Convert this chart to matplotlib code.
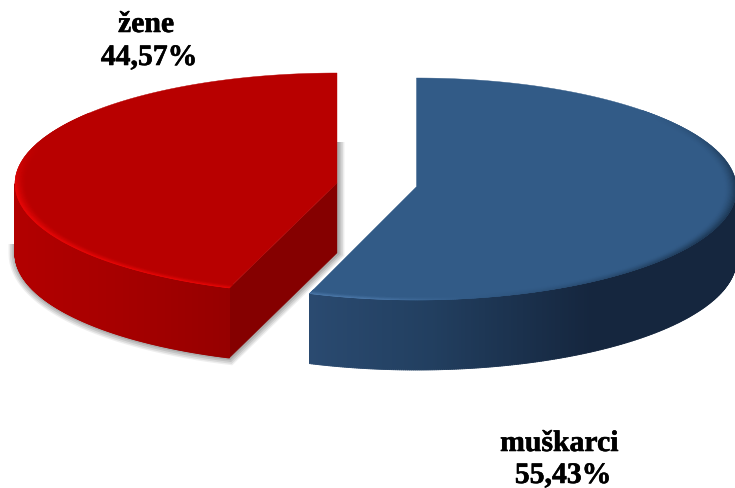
import numpy as np
import matplotlib
matplotlib.use("Agg")
import matplotlib.pyplot as plt
import matplotlib.patheffects as pe
from matplotlib.collections import PolyCollection
from matplotlib.colors import to_rgb
from matplotlib.patches import Polygon

# --- chart data ---
categories = ["muškarci", "žene"]
shares = [55.43, 44.57]

# --- styling ---
W, H = 735, 488
DEPTH = 70.0
blue_geo = dict(x=416.5, apex_y=186.7, cy=189.0, a=320.0, b=111.0)
red_geo = dict(x=337.0, apex_y=183.0, cy=183.7, a=322.0, b=110.7)
blue_top, red_top = "#325b87", "#b80000"
red_face = "#850000"
blue_side_x = [309, 430, 590, 735]
blue_side_c = ["#2a4a70", "#223f60", "#15263e", "#15263e"]
red_side_x = [15, 120, 230]
red_side_c = ["#b20000", "#a60000", "#960000"]


def lerp_colors(x, xs, cs):
    rgb = np.array([to_rgb(c) for c in cs])
    return np.column_stack([np.interp(x, xs, rgb[:, i]) for i in range(3)])


def rim(g, theta, scale=1.0, dy=0.0):
    """Point on the ellipse at clockwise angle theta (radians from 12 o'clock)."""
    xs = g["x"] + scale * g["a"] * np.sin(theta)
    ys = (g["apex_y"] + (g["cy"] - g["apex_y"]) * scale) - scale * g["b"] * np.cos(theta) + dy
    return xs, ys


def wedge(g, t0, t1, scale=1.0):
    t = np.linspace(t0, t1, 240)
    x, y = rim(g, t, scale)
    return np.column_stack([np.r_[g["x"], x], np.r_[g["apex_y"], y]])


def side(ax, g, t0, t1, xs, cs):
    t = np.linspace(t0, t1, 300)
    x, y = rim(g, t)
    col = lerp_colors((x[:-1] + x[1:]) / 2, xs, cs)
    base = [[(x[i], y[i]), (x[i + 1], y[i + 1]), (x[i + 1], y[i + 1] + DEPTH), (x[i], y[i] + DEPTH)]
            for i in range(len(t) - 1)]
    ax.add_collection(PolyCollection(base, facecolors=col, edgecolors=col, linewidths=0.6, zorder=3))
    # aliased inner strips hide the seams of the antialiased base
    inner = [[(x[i], y[i] + 1), (x[i + 1], y[i + 1] + 1), (x[i + 1], y[i + 1] + DEPTH - 1), (x[i], y[i] + DEPTH - 1)]
             for i in range(len(t) - 1)]
    ax.add_collection(PolyCollection(inner, facecolors=col, edgecolors="none", linewidths=0,
                                     antialiaseds=False, zorder=3.1))


def bevel(ax, g, t0, t1, base, tint, weight, width=0.036, zorder=5):
    n_r, n_t = 10, 160
    us = np.linspace(0, 1, n_r + 1)
    ts = np.linspace(t0, t1, n_t + 1)
    polys, cols = [], []
    base, tint = np.array(to_rgb(base)), np.array(to_rgb(tint))
    for j in range(n_r):
        s0, s1 = 1 - width * us[j], 1 - width * us[j + 1]
        fall = (1 - (us[j] + us[j + 1]) / 2) ** 1.4
        for i in range(n_t):
            x0, y0 = rim(g, ts[i], s0)
            x1, y1 = rim(g, ts[i + 1], s0)
            x2, y2 = rim(g, ts[i + 1], s1)
            x3, y3 = rim(g, ts[i], s1)
            polys.append([(x0, y0), (x1, y1), (x2, y2), (x3, y3)])
            w = weight((ts[i] + ts[i + 1]) / 2) * fall
            cols.append(base + (tint - base) * w)
    ax.add_collection(PolyCollection(polys, facecolors=cols, edgecolors=cols, linewidths=0.3, zorder=zorder))


fig = plt.figure(figsize=(W / 100, H / 100), dpi=100)
ax = fig.add_axes([0, 0, 1, 1])
ax.set_xlim(0, W)
ax.set_ylim(H, 0)
ax.axis("off")

sweep_blue = 2 * np.pi * shares[0] / sum(shares)
sweep_red = 2 * np.pi * shares[1] / sum(shares)
red_start = 2 * np.pi - sweep_red

# soft shadow of the red slice
t = np.linspace(1.5 * np.pi, red_start, 120)
x, y = rim(red_geo, t, dy=DEPTH)
sx = np.r_[x[0], x, red_geo["x"], red_geo["x"]]
sy = np.r_[244, y, red_geo["apex_y"] + DEPTH, 142]
for lw, alpha in zip([10, 8, 5.5, 3], [0.10, 0.14, 0.18, 0.22]):
    ax.plot(sx + 0.5, sy, color="#606060", alpha=alpha, lw=lw, solid_capstyle="butt",
            solid_joinstyle="miter", zorder=1)

# red slice
xe, ye = rim(red_geo, red_start)
ax.add_patch(Polygon([(red_geo["x"], red_geo["apex_y"]), (xe, ye), (xe, ye + DEPTH),
                      (red_geo["x"], red_geo["apex_y"] + DEPTH)],
                     fc=red_face, ec=red_face, lw=0.3, zorder=2))
side(ax, red_geo, 1.5 * np.pi, red_start, red_side_x, red_side_c)
ax.add_patch(Polygon(wedge(red_geo, red_start, 2 * np.pi), fc=red_top, ec=red_top, lw=0.3, zorder=4))
red_weight = lambda th: np.clip((1.62 * np.pi - th) / (0.14 * np.pi), 0, 1)
bevel(ax, red_geo, red_start, 1.72 * np.pi, red_top, "#ee0808", red_weight)

# blue slice
side(ax, blue_geo, 0.5 * np.pi, sweep_blue, blue_side_x, blue_side_c)
ax.add_patch(Polygon(wedge(blue_geo, 0, sweep_blue), fc=blue_top, ec=blue_top, lw=0.3, zorder=4))


def blue_weight(th):
    return np.clip((th - 0.27 * np.pi) / (0.2 * np.pi), 0, 1) * np.clip((0.95 * np.pi - th) / (0.3 * np.pi), 0, 1)


bevel(ax, blue_geo, 0.25 * np.pi, 0.95 * np.pi, blue_top, "#1c3652", blue_weight)
bevel(ax, blue_geo, 0.95 * np.pi, sweep_blue, blue_top, "#4f7cae",
      lambda th: np.clip((th - 0.95 * np.pi) / (0.1 * np.pi), 0, 1), zorder=5)

# labels
font = dict(family="Liberation Serif", fontweight="bold", fontsize=21.4, color="black",
            ha="center", va="baseline", zorder=10,
            path_effects=[pe.withStroke(linewidth=0.4, foreground="black")])
pct = [f"{v:.2f}%".replace(".", ",") for v in shares]
ax.text(559.5, 451, categories[0], **font)
ax.text(563, 483, pct[0], **font)
ax.text(146, 32, categories[1], **font)
ax.text(149, 65, pct[1], **font)

fig.savefig("out.png", dpi=100, facecolor="white")
